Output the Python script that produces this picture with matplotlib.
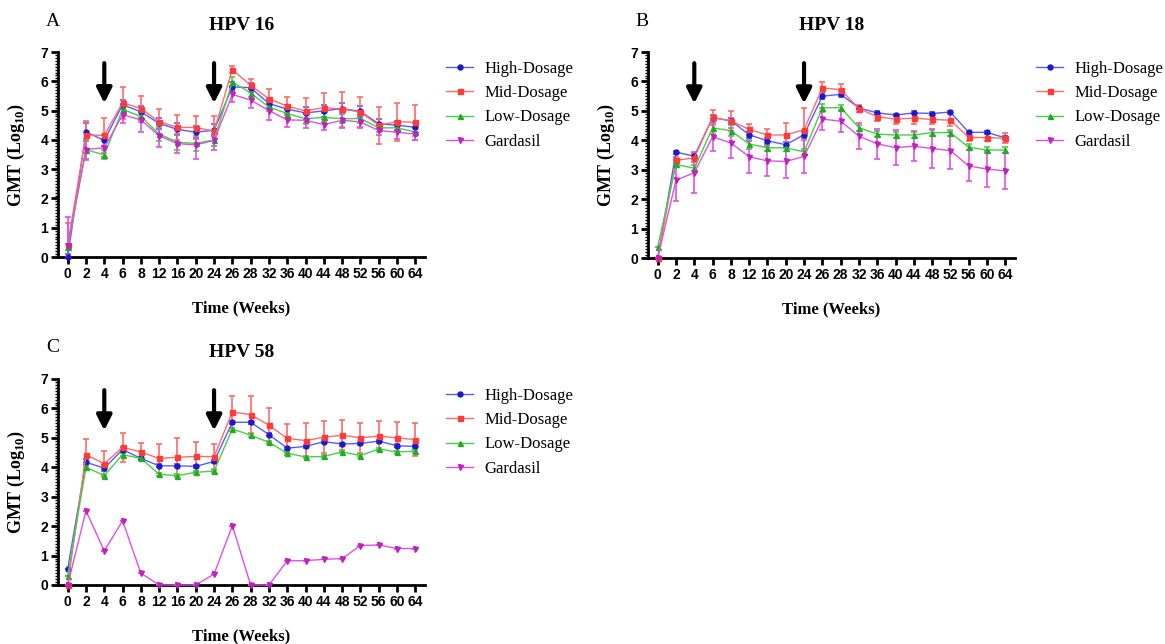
import numpy as np
from matplotlib import pyplot as plt
from matplotlib.ticker import MultipleLocator

weeks = [0, 2, 4, 6, 8, 12, 16, 20, 24, 26, 28, 32, 36, 40, 44, 48, 52, 56, 60, 64]
groups = ["High-Dosage", "Mid-Dosage", "Low-Dosage", "Gardasil"]
boost_weeks = [4, 24]

# HPV 16
high16 = [0.0, 4.27, 3.98, 5.2, 4.96, 4.56, 4.36, 4.26, 4.33, 5.81, 5.78, 5.24, 5.05, 4.92, 4.99, 5.07, 4.97, 4.55, 4.5, 4.43]
mid16 = [0.42, 4.17, 4.15, 5.27, 5.07, 4.62, 4.43, 4.42, 4.3, 6.4, 5.86, 5.4, 5.15, 4.99, 5.1, 5.05, 4.95, 4.5, 4.62, 4.6]
low16 = [0.35, 3.66, 3.49, 5.04, 4.8, 4.2, 3.92, 3.88, 4.0, 5.98, 5.6, 5.12, 4.9, 4.72, 4.77, 4.72, 4.73, 4.41, 4.41, 4.27]
gard16 = [0.38, 3.67, 3.73, 4.86, 4.68, 4.14, 3.87, 3.83, 3.98, 5.55, 5.36, 5.0, 4.68, 4.67, 4.52, 4.67, 4.61, 4.32, 4.26, 4.2]
high16_err = [0.1, 0.3, 0.2, 0.15, 0.2, 0.2, 0.2, 0.2, 0.2, 0.15, 0.15, 0.15, 0.15, 0.2, 0.2, 0.2, 0.2, 0.15, 0.15, 0.15]
mid16_err = [0.75, 0.48, 0.6, 0.55, 0.43, 0.43, 0.43, 0.4, 0.5, 0.12, 0.22, 0.35, 0.3, 0.45, 0.5, 0.6, 0.52, 0.63, 0.65, 0.6]
low16_err = [0.1, 0.3, 0.15, 0.2, 0.2, 0.25, 0.25, 0.25, 0.2, 0.15, 0.15, 0.15, 0.15, 0.15, 0.15, 0.15, 0.15, 0.15, 0.15, 0.15]
gard16_err = [1.0, 0.37, 0.3, 0.3, 0.4, 0.38, 0.33, 0.47, 0.33, 0.25, 0.27, 0.33, 0.25, 0.25, 0.2, 0.27, 0.2, 0.15, 0.23, 0.21]

# HPV 18
high18 = [0.0, 3.6, 3.46, 4.77, 4.66, 4.19, 3.98, 3.85, 4.19, 5.5, 5.56, 5.1, 4.93, 4.86, 4.93, 4.91, 4.96, 4.27, 4.27, 4.08]
mid18 = [0.0, 3.32, 3.4, 4.78, 4.66, 4.37, 4.18, 4.18, 4.36, 5.78, 5.72, 5.08, 4.8, 4.72, 4.75, 4.71, 4.68, 4.1, 4.09, 4.07]
low18 = [0.38, 3.18, 3.05, 4.42, 4.33, 3.87, 3.75, 3.74, 3.61, 5.1, 5.11, 4.43, 4.21, 4.18, 4.18, 4.26, 4.26, 3.76, 3.67, 3.67]
gard18 = [0.0, 2.64, 2.9, 4.12, 3.91, 3.44, 3.3, 3.28, 3.45, 4.72, 4.65, 4.14, 3.88, 3.75, 3.8, 3.72, 3.65, 3.13, 3.02, 2.96]
high18_err = [0.0, 0.05, 0.1, 0.1, 0.1, 0.1, 0.1, 0.1, 0.1, 0.1, 0.1, 0.05, 0.05, 0.05, 0.05, 0.05, 0.05, 0.05, 0.05, 0.05]
mid18_err = [0.0, 0.12, 0.15, 0.25, 0.35, 0.2, 0.2, 0.4, 0.73, 0.2, 0.2, 0.12, 0.15, 0.15, 0.2, 0.15, 0.2, 0.12, 0.12, 0.17]
low18_err = [0.0, 0.1, 0.1, 0.2, 0.2, 0.15, 0.1, 0.1, 0.1, 0.15, 0.1, 0.1, 0.1, 0.1, 0.1, 0.1, 0.1, 0.1, 0.1, 0.1]
gard18_err = [0.0, 0.72, 0.7, 0.47, 0.5, 0.55, 0.5, 0.57, 0.55, 0.37, 0.37, 0.45, 0.5, 0.6, 0.5, 0.65, 0.62, 0.53, 0.6, 0.6]

# HPV 58
high58 = [0.55, 4.17, 3.97, 4.6, 4.3, 4.05, 4.05, 4.03, 4.2, 5.53, 5.53, 5.11, 4.65, 4.71, 4.87, 4.79, 4.81, 4.89, 4.73, 4.71]
mid58 = [0.0, 4.43, 4.12, 4.68, 4.52, 4.3, 4.34, 4.37, 4.36, 5.88, 5.79, 5.43, 4.98, 4.91, 5.02, 5.09, 5.0, 5.06, 5.0, 4.94]
low58 = [0.31, 4.0, 3.72, 4.43, 4.3, 3.76, 3.72, 3.83, 3.87, 5.3, 5.09, 4.85, 4.48, 4.35, 4.37, 4.52, 4.4, 4.62, 4.52, 4.55]
gard58 = [0.0, 2.52, 1.16, 2.18, 0.4, 0.0, 0.0, 0.0, 0.37, 2.02, 0.0, 0.0, 0.82, 0.83, 0.87, 0.9, 1.34, 1.36, 1.24, 1.24]
high58_err = [0.0, 0.1, 0.1, 0.1, 0.05, 0.05, 0.05, 0.05, 0.05, 0.05, 0.05, 0.05, 0.05, 0.05, 0.05, 0.05, 0.05, 0.05, 0.05, 0.05]
mid58_err = [0.0, 0.52, 0.42, 0.5, 0.3, 0.5, 0.67, 0.5, 0.43, 0.53, 0.64, 0.6, 0.5, 0.6, 0.55, 0.5, 0.5, 0.5, 0.55, 0.56]
low58_err = [0.0, 0.05, 0.05, 0.05, 0.05, 0.05, 0.05, 0.05, 0.05, 0.05, 0.05, 0.05, 0.05, 0.05, 0.05, 0.05, 0.05, 0.05, 0.05, 0.05]
gard58_err = [0.0] * 20

line_colors = ['#5a5aff', '#ff6a6a', '#45d045', '#e050e0']
marker_colors = ['#1a1acc', '#ff3a3a', '#22aa22', '#c020c0']
markers = ['o', 's', '^', 'v']

SERIF = 'Liberation Serif'
SANS = 'Liberation Sans'


def draw_panel(ax, series, errors, title):
    x = np.arange(len(weeks))
    for i, (vals, err) in enumerate(zip(series, errors)):
        vals = np.array(vals)
        err = np.array(err)
        lower = np.minimum(err, vals)
        ax.errorbar(x, vals, yerr=[lower, err], fmt='none', ecolor=line_colors[i],
                    elinewidth=1.2, capsize=2.2, capthick=1.2, zorder=2 + i)
    for i, vals in enumerate(series):
        ax.plot(x, vals, color=line_colors[i], lw=1.0, marker=markers[i],
                markersize=3.6, markerfacecolor=marker_colors[i],
                markeredgecolor=marker_colors[i], label=groups[i],
                clip_on=False, zorder=6 + i)
    for wk in boost_weeks:
        idx = weeks.index(wk)
        ax.annotate('', xy=(idx, 5.25), xytext=(idx, 6.62),
                    arrowprops=dict(arrowstyle='-|>,head_width=0.45,head_length=0.9',
                                    lw=3, color='black', shrinkA=0, shrinkB=0))
    ax.set_xlim(-0.53, 19.53)
    ax.set_ylim(0, 7)
    ax.set_xticks(x)
    ax.set_xticklabels([str(w) for w in weeks])
    ax.set_yticks(range(8))
    ax.yaxis.set_minor_locator(MultipleLocator(0.1))
    for s in ['top', 'right']:
        ax.spines[s].set_visible(False)
    for s in ['left', 'bottom']:
        ax.spines[s].set_linewidth(2)
    ax.tick_params(width=2, length=5, direction='out', pad=2)
    ax.tick_params(axis='y', which='minor', width=1, length=2.5)
    for lab in ax.get_xticklabels() + ax.get_yticklabels():
        lab.set_fontfamily(SANS)
        lab.set_fontweight('bold')
        lab.set_fontsize(10)
    ax.set_title(title, fontfamily=SERIF, fontweight='bold', fontsize=14, pad=16)
    ax.set_ylabel('GMT (Log$_{\\mathregular{10}}$)', fontfamily=SERIF,
                  fontweight='bold', fontsize=13, labelpad=10)
    ax.set_xlabel('Time (Weeks)', fontfamily=SERIF, fontweight='bold',
                  fontsize=12, labelpad=14)
    ax.legend(loc='upper left', bbox_to_anchor=(1.04, 0.99), frameon=False,
              prop={'family': SERIF, 'size': 12}, handlelength=1.6,
              handletextpad=0.7, labelspacing=0.5, borderaxespad=0)


W, H = 1165, 644
fig = plt.figure(figsize=(W / 100, H / 100), dpi=100)


def add_axes(left, top, right, bottom):
    return fig.add_axes([left / W, 1 - bottom / H, (right - left) / W, (bottom - top) / H])


axA = add_axes(58, 52, 425, 257)
axB = add_axes(648, 52, 1015, 258)
axC = add_axes(58, 379, 425, 585)

draw_panel(axA, [high16, mid16, low16, gard16], [high16_err, mid16_err, low16_err, gard16_err], 'HPV 16')
draw_panel(axB, [high18, mid18, low18, gard18], [high18_err, mid18_err, low18_err, gard18_err], 'HPV 18')
draw_panel(axC, [high58, mid58, low58, gard58], [high58_err, mid58_err, low58_err, gard58_err], 'HPV 58')

for letter, lx, ly in [('A', 53, 21), ('B', 642, 21), ('C', 53, 348)]:
    fig.text(lx / W, 1 - ly / H, letter, fontfamily=SERIF, fontsize=14,
             ha='center', va='center')

fig.savefig('out.png', dpi=100)
